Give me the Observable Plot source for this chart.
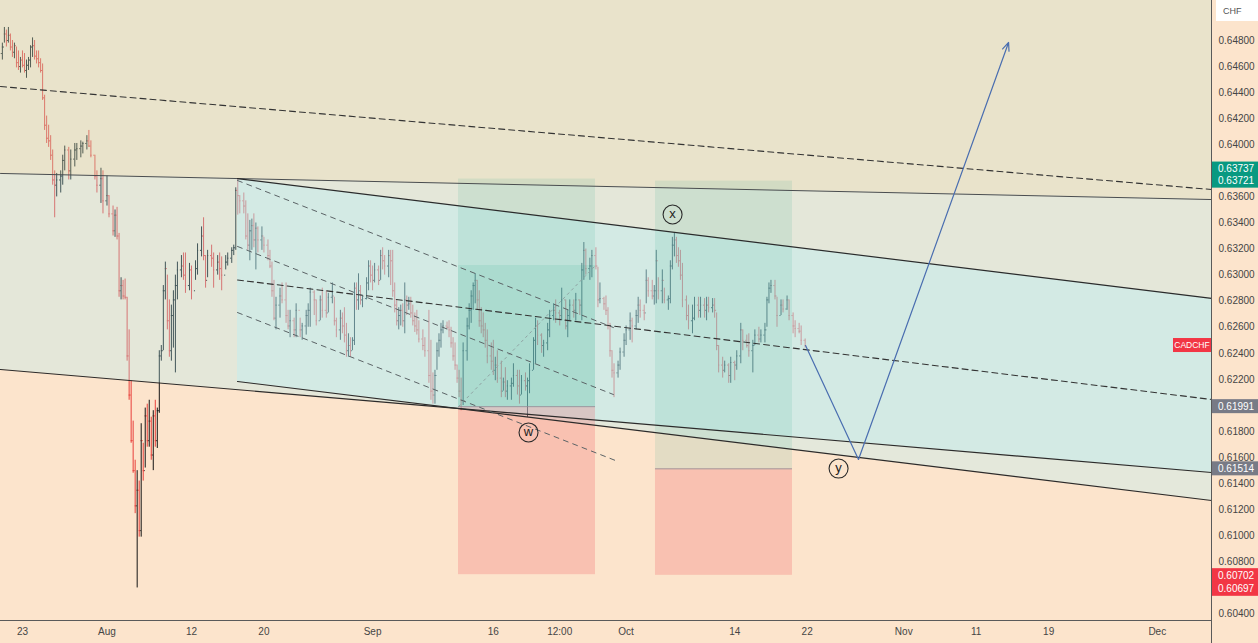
<!DOCTYPE html>
<html><head><meta charset="utf-8">
<script src="https://cdn.jsdelivr.net/npm/d3@7"></script>
<script src="https://cdn.jsdelivr.net/npm/@observablehq/plot@0.6"></script>
<style>
html,body{margin:0;padding:0;background:#fce4cc;overflow:hidden}
#chart svg{display:block}
</style></head><body><div id="chart"></div>
<script>
// ---- Data (x = 4h bar index from 23 Jul 00:00, price in CHF) ----
const firstOpen = 0.6470;
const bars = [ // [bar, high, low, close]
[-10,.6478,.6465,.6475],[-9,.6490,.6478,.6485],[-8,.6488,.6475,.6480],[-7,.6490,.6478,.6484],[-6,.6485,.6472,.6475],
[-5,.6480,.6467,.6471],[-4,.6478,.6466,.6476],[-3,.6475,.6459,.6463],[-2,.6472,.6457,.6460],[-1,.6467,.6455,.6465],
[0,.6472,.6459,.6461],[1,.6470,.6455,.6457],[2,.6465,.6451,.6461],[3,.6467,.6457,.6465],[4,.6476,.6459,.6475],
[5,.6482,.6467,.6476],[6,.6480,.6465,.6468],[7,.6472,.6462,.6466],[8,.6472,.6459,.6463],[9,.6466,.6455,.6457],
[10,.6462,.6434,.6436],[11,.6438,.6411,.6415],[12,.6422,.6401,.6405],[13,.6415,.6398,.6403],[14,.6407,.6388,.6392],
[15,.6396,.6369,.6373],[16,.6380,.6344,.6369],[17,.6378,.6360,.6373],[19,.6380,.6363,.6376],[20,.6392,.6369,.6388],
[21,.6399,.6380,.6396],[23,.6398,.6373,.6380],[24,.6396,.6373,.6389],[26,.6401,.6383,.6396],[27,.6401,.6388,.6397],
[29,.6403,.6390,.6399],[30,.6402,.6393,.6401],[32,.6407,.6396,.6403],[33,.6411,.6398,.6399],[34,.6403,.6390,.6392],
[36,.6392,.6373,.6376],[37,.6380,.6363,.6369],[39,.6382,.6355,.6374],[40,.6380,.6347,.6357],[42,.6376,.6353,.6361],
[43,.6361,.6344,.6347],[45,.6353,.6330,.6334],[46,.6350,.6329,.6346],[47,.6352,.6327,.6330],[48,.6332,.6283,.6288],
[49,.6298,.6281,.6292],[50,.6296,.6281,.6284],[51,.6297,.6281,.6283],[52,.6283,.6234,.6238],[53,.6258,.6204,.6208],
[54,.6219,.6171,.6173],[55,.6188,.6148,.6150],[56,.6158,.6117,.6123],[57,.6150,.6060,.6135],[58,.6142,.6099,.6104],
[59,.6186,.6099,.6173],[60,.6171,.6142,.6150],[61,.6198,.6152,.6192],[62,.6201,.6168,.6173],[63,.6204,.6168,.6188],
[64,.6191,.6158,.6162],[65,.6196,.6150,.6192],[66,.6204,.6168,.6173],[67,.6198,.6167,.6196],[68,.6242,.6194,.6238],
[69,.6246,.6234,.6242],[70,.6292,.6242,.6288],[71,.6310,.6281,.6305],[72,.6300,.6258,.6265],[73,.6281,.6237,.6242],
[74,.6277,.6234,.6269],[75,.6288,.6244,.6281],[76,.6300,.6225,.6292],[77,.6310,.6281,.6304],[79,.6315,.6298,.6307],
[80,.6317,.6296,.6300],[81,.6317,.6286,.6292],[83,.6309,.6288,.6304],[84,.6307,.6281,.6288],[86,.6311,.6296,.6305],
[87,.6324,.6300,.6319],[89,.6337,.6314,.6330],[90,.6344,.6311,.6315],[91,.6315,.6290,.6296],[92,.6319,.6298,.6315],
[94,.6323,.6306,.6313],[95,.6317,.6290,.6304],[97,.6315,.6300,.6310],[98,.6317,.6296,.6305],[99,.6314,.6288,.6300],
[101,.6315,.6304,.6310],[102,.6317,.6307,.6313],[104,.6321,.6309,.6319],[105,.6323,.6315,.6321],[106,.6367,.6319,.6365],
[107,.6374,.6346,.6361],[108,.6361,.6347,.6357],[110,.6363,.6347,.6353],[111,.6357,.6327,.6330],[112,.6347,.6319,.6323],
[113,.6342,.6311,.6334],[114,.6343,.6319,.6338],[115,.6347,.6321,.6327],[116,.6340,.6304,.6336],[117,.6337,.6317,.6327],
[119,.6337,.6319,.6330],[120,.6329,.6317,.6323],[122,.6327,.6311,.6315],[123,.6319,.6305,.6307],[124,.6310,.6283,.6288],
[125,.6296,.6265,.6267],[126,.6283,.6258,.6277],[128,.6290,.6267,.6284],[129,.6294,.6278,.6281],[131,.6294,.6263,.6269],
[132,.6273,.6258,.6261],[133,.6273,.6252,.6265],[135,.6267,.6252,.6258],[136,.6278,.6252,.6273],[138,.6267,.6252,.6258],
[139,.6263,.6250,.6261],[141,.6273,.6254,.6269],[142,.6278,.6260,.6273],[143,.6290,.6260,.6287],[145,.6288,.6269,.6281],
[146,.6281,.6261,.6265],[148,.6284,.6265,.6281],[149,.6290,.6267,.6273],[151,.6288,.6267,.6271],[152,.6286,.6271,.6283],
[154,.6294,.6278,.6284],[155,.6283,.6261,.6265],[156,.6267,.6252,.6258],[158,.6273,.6250,.6267],[159,.6271,.6255,.6261],
[160,.6275,.6248,.6254],[161,.6263,.6237,.6242],[162,.6255,.6237,.6246],[163,.6252,.6237,.6242],[164,.6252,.6242,.6250],
[165,.6294,.6246,.6290],[166,.6294,.6273,.6281],[167,.6301,.6273,.6288],[168,.6292,.6277,.6281],[169,.6284,.6275,.6282],
[171,.6298,.6281,.6294],[172,.6311,.6288,.6307],[173,.6311,.6294,.6300],[174,.6307,.6288,.6296],[175,.6309,.6294,.6304],
[177,.6307,.6292,.6296],[178,.6319,.6296,.6315],[179,.6321,.6304,.6311],[180,.6315,.6300,.6307],[182,.6319,.6298,.6315],
[183,.6319,.6292,.6311],[184,.6319,.6283,.6288],[185,.6294,.6271,.6277],[186,.6281,.6261,.6265],[187,.6275,.6258,.6269],
[188,.6277,.6261,.6273],[189,.6278,.6260,.6265],[190,.6294,.6255,.6281],[191,.6284,.6269,.6277],[192,.6283,.6273,.6278],
[193,.6283,.6267,.6271],[194,.6277,.6261,.6265],[195,.6271,.6256,.6261],[196,.6273,.6254,.6258],[197,.6265,.6248,.6251],
[199,.6258,.6242,.6246],[200,.6252,.6237,.6242],[202,.6273,.6217,.6223],[203,.6250,.6204,.6211],[204,.6225,.6201,.6208],
[205,.6227,.6201,.6223],[206,.6248,.6227,.6242],[207,.6255,.6237,.6250],[208,.6263,.6244,.6258],[209,.6265,.6255,.6261],
[211,.6264,.6258,.6260],[212,.6265,.6252,.6258],[213,.6260,.6244,.6248],[214,.6252,.6234,.6238],[215,.6248,.6227,.6231],
[216,.6231,.6217,.6221],[217,.6227,.6206,.6211],[218,.6221,.6196,.6204],[219,.6248,.6200,.6242],[221,.6267,.6234,.6261],
[222,.6278,.6258,.6273],[223,.6288,.6263,.6284],[224,.6294,.6273,.6292],[225,.6301,.6278,.6296],[226,.6296,.6273,.6281],
[227,.6288,.6260,.6265],[228,.6275,.6255,.6261],[229,.6271,.6252,.6258],[230,.6263,.6244,.6250],[231,.6258,.6232,.6238],
[233,.6248,.6227,.6234],[234,.6250,.6223,.6227],[235,.6237,.6219,.6231],[236,.6242,.6217,.6221],[238,.6234,.6206,.6211],
[239,.6221,.6211,.6218],[240,.6229,.6206,.6211],[241,.6219,.6204,.6215],[243,.6221,.6204,.6217],[244,.6232,.6214,.6223],
[246,.6227,.6208,.6215],[247,.6227,.6201,.6208],[248,.6223,.6208,.6219],[250,.6225,.6211,.6215],[251,.6221,.6191,.6219],
[252,.6232,.6209,.6227],[254,.6252,.6227,.6250],[255,.6267,.6232,.6261],[256,.6265,.6246,.6254],[258,.6255,.6240,.6246],
[259,.6250,.6237,.6248],[261,.6263,.6242,.6258],[262,.6273,.6252,.6269],[264,.6278,.6265,.6273],[265,.6281,.6263,.6271],
[267,.6273,.6261,.6269],[268,.6290,.6265,.6281],[270,.6281,.6258,.6261],[271,.6273,.6252,.6269],[272,.6281,.6265,.6277],
[274,.6281,.6267,.6273],[275,.6286,.6265,.6281],[277,.6281,.6269,.6277],[278,.6309,.6265,.6304],[279,.6325,.6296,.6319],
[280,.6320,.6300,.6305],[282,.6313,.6296,.6307],[283,.6319,.6298,.6315],[285,.6321,.6304,.6307],[286,.6306,.6275,.6281],
[287,.6294,.6278,.6282],[289,.6283,.6273,.6278],[290,.6284,.6269,.6273],[291,.6275,.6258,.6261],[292,.6263,.6237,.6242],
[293,.6242,.6221,.6227],[294,.6232,.6206,.6225],[296,.6234,.6221,.6231],[297,.6244,.6227,.6241],[299,.6255,.6237,.6250],
[300,.6261,.6246,.6258],[302,.6271,.6250,.6265],[303,.6267,.6248,.6261],[305,.6273,.6258,.6269],[306,.6283,.6263,.6277],
[307,.6281,.6267,.6273],[309,.6277,.6265,.6271],[310,.6304,.6278,.6296],[311,.6298,.6283,.6288],[313,.6296,.6281,.6284],
[314,.6292,.6277,.6288],[315,.6319,.6278,.6311],[316,.6298,.6281,.6288],[318,.6304,.6278,.6296],[319,.6290,.6278,.6281],
[321,.6284,.6273,.6282],[322,.6311,.6278,.6307],[323,.6329,.6304,.6323],[324,.6332,.6314,.6327],[325,.6329,.6309,.6315],
[326,.6321,.6306,.6311],[327,.6319,.6296,.6300],[328,.6309,.6275,.6281],[330,.6284,.6265,.6269],[331,.6277,.6258,.6265],
[333,.6277,.6255,.6267],[334,.6283,.6265,.6277],[336,.6283,.6267,.6273],[337,.6283,.6267,.6277],[339,.6282,.6267,.6273],
[340,.6283,.6265,.6277],[341,.6283,.6271,.6275],[343,.6282,.6271,.6277],[344,.6282,.6267,.6273],[345,.6271,.6242,.6246],
[346,.6246,.6225,.6231],[348,.6237,.6221,.6227],[349,.6234,.6225,.6231],[351,.6232,.6217,.6223],[352,.6237,.6217,.6233],
[354,.6234,.6219,.6231],[355,.6242,.6227,.6238],[357,.6263,.6232,.6258],[358,.6258,.6242,.6250],[360,.6254,.6244,.6246],
[361,.6255,.6237,.6242],[363,.6250,.6225,.6246],[364,.6258,.6246,.6254],[366,.6260,.6248,.6251],[367,.6258,.6248,.6254],
[369,.6263,.6248,.6258],[370,.6283,.6260,.6281],[371,.6294,.6278,.6290],[372,.6296,.6286,.6292],[374,.6296,.6281,.6284],
[375,.6283,.6260,.6269],[377,.6281,.6269,.6277],[378,.6281,.6271,.6274],[380,.6284,.6273,.6281],[381,.6281,.6265,.6269],
[383,.6271,.6255,.6261],[384,.6265,.6252,.6259],[386,.6263,.6255,.6257],[387,.6261,.6246,.6250],[389,.6251,.6244,.6246]
];

// x axis ticks (bar index) and labels
const tickBars   = [0, 42, 84, 120, 174, 234, 267, 300, 354, 390, 438, 474, 510, 564];
const tickLabels = ["23","Aug","12","20","Sep","16","12:00","Oct","14","22","Nov","11","19","Dec"];
const priceTicks = [0.604,0.606,0.608,0.610,0.612,0.614,0.616,0.618,0.620,0.622,0.624,0.626,0.628,0.630,
                    0.632,0.634,0.636,0.638,0.640,0.642,0.644,0.646,0.648];

// visible range
const xDomain = [-10.93, 590.95];
const yDomain = [0.603504, 0.651069];

// trend lines [bar, price]
const upperLine    = [[-10.93, 0.63780], [590.95, 0.63580]];
const upperDashed  = [[-10.93, 0.64447], [590.95, 0.63657]];
const outerLower   = [[-10.93, 0.62276], [590.95, 0.61486]];
const channelTop   = [[106.86, 0.63741], [590.95, 0.62821]];
const channelBot   = [[106.86, 0.62184], [590.95, 0.61271]];
const channelMid   = [[106.86, 0.62963], [590.95, 0.62046]];
const innerDashA   = [[106.86, 0.63726], [293.7, 0.62598]];
const innerDashB   = [[106.86, 0.63220], [293.7, 0.62084]];
const innerDashC   = [[106.86, 0.62713], [294.7, 0.61578]];
const projection   = [[389.2, 0.62460], [415.5, 0.61586], [490.1, 0.64785]];

// long position tools
const positions = [
  {b1: 216.7, b2: 284.8, target: 0.63737, entry: 0.61991, stop: 0.60702, close: 0.63074},
  {b1: 314.6, b2: 382.7, target: 0.63721, entry: 0.61514, stop: 0.60697, close: null}
];
// wave labels
const waves = [
  {b: 323.1, p: 0.63465, t: "x"},
  {b: 251.5, p: 0.61793, t: "w"},
  {b: 405.6, p: 0.61516, t: "y"}
];
// price scale labels
const priceLabels = [
  {p: 0.63737, c: "#089981", nudge: -10},
  {p: 0.63721, c: "#089981", nudge: 0},
  {p: 0.61991, c: "#787b86", nudge: 0},
  {p: 0.61514, c: "#787b86", nudge: 0},
  {p: 0.60702, c: "#f23645", nudge: 1},
  {p: 0.60697, c: "#f23645", nudge: 14}
];
const symbol = "CADCHF";
const currency = "CHF";

// ---- build ----
const rows = bars.map((r, i) => ({b: r[0], h: r[1], l: r[2], c: r[3], o: i ? bars[i - 1][3] : firstOpen}));
const up = rows.filter(d => d.c >= d.o), down = rows.filter(d => d.c < d.o);
const upColor = "#151515", downColor = "#e8403b";
const yTop = yDomain[1] + 0.0005;

const pair = (a, b) => a.map((p, i) => ({x: p[0], y1: b[i][1], y2: p[1]}));
const zoneA = upperLine.map(p => ({x: p[0], y1: p[1], y2: yTop}));
const zoneB = pair(upperLine, outerLower);
const chan  = pair(channelTop, channelBot);
const X = d => d[0], Y = d => d[1];

const ohlcMarks = (data, color) => [
  Plot.ruleX(data, {x: "b", y1: "l", y2: "h", stroke: color, strokeWidth: 1}),
  Plot.ruleY(data, {x1: d => d.b - 0.55, x2: "b", y: "o", stroke: color, strokeWidth: 1}),
  Plot.ruleY(data, {x1: "b", x2: d => d.b + 0.55, y: "c", stroke: color, strokeWidth: 1})
];

const chart = Plot.plot({
  width: 1258, height: 643,
  marginLeft: 0, marginRight: 47, marginTop: 0, marginBottom: 23,
  x: {domain: xDomain, axis: null},
  y: {domain: yDomain, axis: null},
  style: {background: "#fce4cc", color: "#454545", fontFamily: "'Liberation Sans', Arial, sans-serif", overflow: "visible"},
  marks: [
    ...ohlcMarks(up, upColor),
    ...ohlcMarks(down, downColor),
    // background zones (semi-transparent overlays)
    Plot.areaY(zoneA, {x: "x", y1: "y1", y2: "y2", fill: "rgb(198,225,201)", fillOpacity: 0.35}),
    Plot.areaY(zoneB, {x: "x", y1: "y1", y2: "y2", fill: "rgb(172,238,247)", fillOpacity: 0.3}),
    Plot.areaY(chan,  {x: "x", y1: "y1", y2: "y2", fill: "rgb(171,241,254)", fillOpacity: 0.3}),
    // position tools
    Plot.rect(positions, {x1: "b1", x2: "b2", y1: "entry", y2: "target", fill: "#089981", fillOpacity: 0.1}),
    Plot.rect(positions.filter(d => d.close != null), {x1: "b1", x2: "b2", y1: "entry", y2: "close", fill: "#089981", fillOpacity: 0.1}),
    Plot.rect(positions, {x1: "b1", x2: "b2", y1: "stop", y2: "entry", fill: "#f23645", fillOpacity: 0.2}),
    Plot.ruleY(positions, {x1: "b1", x2: "b2", y: "entry", stroke: "#8a8d96", strokeWidth: 1, strokeOpacity: 0.8}),
    Plot.link(positions.filter(d => d.close != null), {x1: "b1", y1: "entry", x2: "b2", y2: "close", stroke: "#8fa3a3", strokeDasharray: "3,3", strokeWidth: 1}),
    // trend lines
    Plot.line(upperLine,  {x: X, y: Y, stroke: "#4a4d4f", strokeWidth: 1}),
    Plot.line(outerLower, {x: X, y: Y, stroke: "#2b2b2b", strokeWidth: 1.2}),
    Plot.line(channelTop, {x: X, y: Y, stroke: "#2b2b2b", strokeWidth: 1.2}),
    Plot.line(channelBot, {x: X, y: Y, stroke: "#2b2b2b", strokeWidth: 1.2}),
    Plot.line(upperDashed, {x: X, y: Y, stroke: "#333", strokeWidth: 1.1, strokeDasharray: "6,4"}),
    Plot.line(channelMid,  {x: X, y: Y, stroke: "#333", strokeWidth: 1.1, strokeDasharray: "6,4"}),
    Plot.line(innerDashA,  {x: X, y: Y, stroke: "#5b6366", strokeWidth: 1, strokeDasharray: "5,5"}),
    Plot.line(innerDashB,  {x: X, y: Y, stroke: "#5b6366", strokeWidth: 1, strokeDasharray: "5,5"}),
    Plot.line(innerDashC,  {x: X, y: Y, stroke: "#5b6366", strokeWidth: 1, strokeDasharray: "5,5"}),
    // projection
    Plot.line(projection.slice(0, 2), {x: X, y: Y, stroke: "#4a6eb0", strokeWidth: 1.2}),
    Plot.arrow([projection.slice(1)], {x1: d => d[0][0], y1: d => d[0][1], x2: d => d[1][0], y2: d => d[1][1],
      stroke: "#4a6eb0", strokeWidth: 1.2, headLength: 11, headAngle: 45}),
    // wave labels
    Plot.dot(waves, {x: "b", y: "p", r: 9.5, stroke: "#2a2a2a", fill: "none", strokeWidth: 1.1}),
    Plot.text(waves, {x: "b", y: "p", text: "t", fontSize: 13, fill: "#222", dy: -1}),
    // frame
    Plot.ruleY([yDomain[0]], {stroke: "#5a5a5a", strokeWidth: 1}),
    // axes
    Plot.axisX({anchor: "bottom", ticks: tickBars, tickFormat: d => tickLabels[tickBars.indexOf(d)],
      tickSize: 0, tickPadding: 7, fontSize: 10, label: null}),
    Plot.axisY({anchor: "right", ticks: priceTicks, tickFormat: d3.format(".5f"),
      tickSize: 0, tickPadding: 7, fontSize: 10, label: null})
  ]
});
document.getElementById("chart").append(chart);

// ---- price scale overlays ----
const ys = chart.scale("y"), xs = chart.scale("x");
const svg = d3.select(chart);
const axisX = xs.range[1];
const labelYs = priceLabels.map(d => ys.apply(d.p) + d.nudge);
// hide scale ticks covered by the coloured price labels
svg.selectAll('g[aria-label="y-axis tick label"] text').each(function() {
  const v = +this.textContent;
  const y = ys.apply(v);
  if (labelYs.some(l => Math.abs(l - y) < 11)) this.remove();
});
svg.append("line").attr("x1", axisX + 0.5).attr("x2", axisX + 0.5).attr("y1", 0).attr("y2", 643)
  .attr("stroke", "#5a5a5a").attr("stroke-width", 1);
const g = svg.append("g").attr("font-family", "'Liberation Sans', Arial, sans-serif")
  .attr("font-size", 10).attr("text-anchor", "start");
priceLabels.forEach((d, i) => {
  const yc = labelYs[i];
  g.append("rect").attr("x", axisX + 1).attr("y", yc - 7).attr("width", 1258 - axisX - 1).attr("height", 14).attr("fill", d.c);
  g.append("text").attr("x", axisX + 7).attr("y", yc).attr("dy", "0.35em").attr("text-anchor", "start")
    .attr("fill", "#fff").text(d3.format(".5f")(d.p));
});
// symbol label at last close
const lastY = ys.apply(rows[rows.length - 1].c);
g.append("rect").attr("x", axisX - 38).attr("y", lastY - 7).attr("width", 38).attr("height", 14).attr("fill", "#f23645");
g.append("text").attr("x", axisX - 19).attr("y", lastY).attr("dy", "0.35em").attr("text-anchor", "middle")
  .attr("fill", "#fff").attr("font-size", 8.5).text(symbol);
// currency box
g.append("rect").attr("x", axisX + 5).attr("y", 0).attr("width", 1258 - axisX - 5).attr("height", 21).attr("fill", "#fff");
g.append("text").attr("x", axisX + 12).attr("y", 11).attr("dy", "0.35em").attr("text-anchor", "start")
  .attr("fill", "#555").attr("font-size", 9).text(currency);
</script>
</body></html>
